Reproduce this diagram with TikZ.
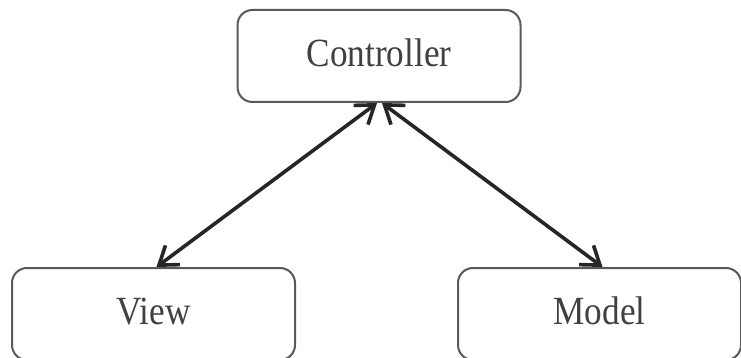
\documentclass[tikz,border=0pt]{standalone}
\usepackage{fontspec}
\setmainfont{Liberation Serif}
\usetikzlibrary{arrows.meta}
\tikzset{
	box/.style={draw=black!65,line width=2pt,rounded corners=15pt,minimum width=283pt,minimum height=92pt,inner sep=0pt},
	lbl/.style={font=\fontsize{40}{48}\selectfont,text=black!75},
	link/.style={black!85,line width=3.6pt,{Straight Barb[length=17pt,width=24pt]}-{Straight Barb[length=17pt,width=24pt]}}
}
\newcommand{\boxtext}[1]{\raisebox{6pt}{\scalebox{0.88}[1]{#1}}}
\begin{document}
\begin{tikzpicture}[x=1pt,y=-1pt]
						\useasboundingbox (0,0) rectangle (741,358);
						\node [box,lbl] (ctrl) at (379, 56) {\boxtext{Controller}};
						\node [box,lbl] (view) at (153.5, 314) {\boxtext{View}};
						\node [box,lbl] (model) at (599.5, 314) {\boxtext{Model}};

						\draw [link] ([xshift=-2pt]ctrl.south) -- ([xshift=3pt]view.north);
						\draw [link] ([xshift=3pt]ctrl.south) -- ([xshift=3pt]model.north);
					\end{tikzpicture}
\end{document}
